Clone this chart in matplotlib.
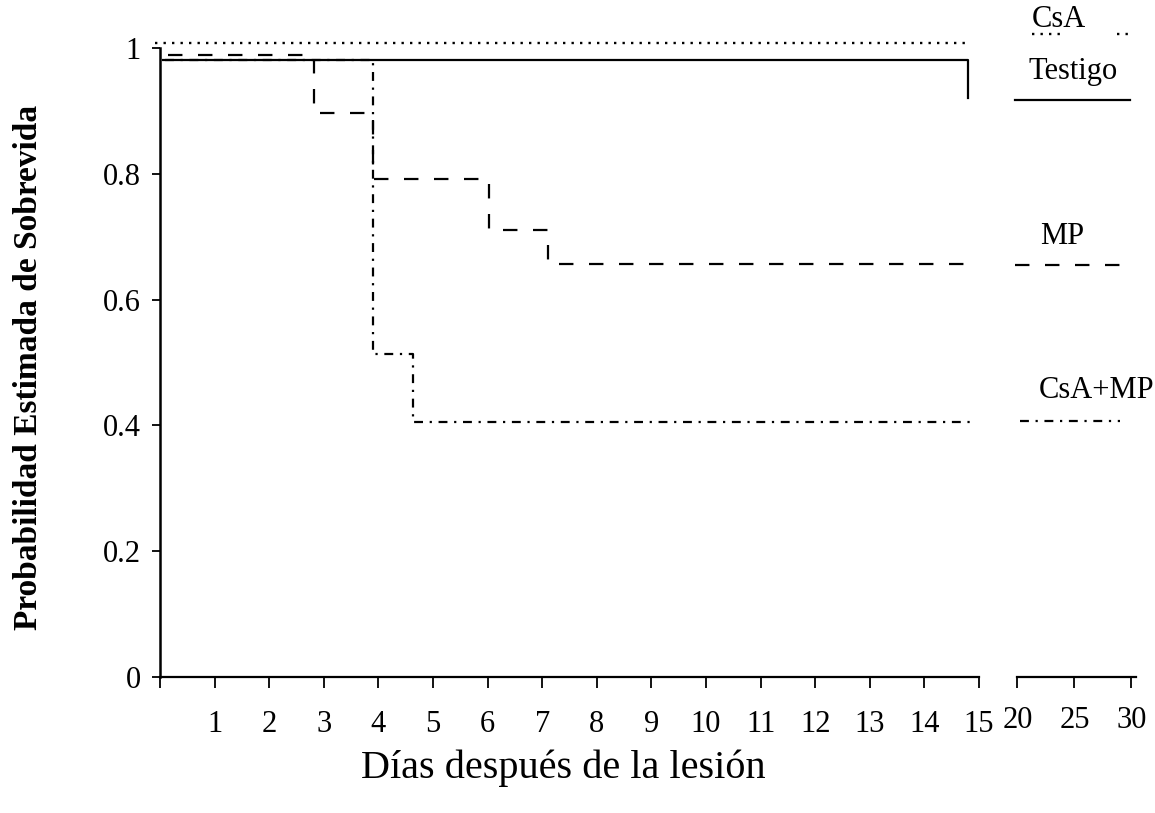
import matplotlib
matplotlib.use("Agg")
import matplotlib.pyplot as plt
from matplotlib.ticker import FixedLocator, NullFormatter

plt.rcParams["font.family"] = ["Liberation Serif", "DejaVu Serif"]

# Kaplan-Meier estimates: event times (days) and survival after each event
testigo_t = [0.05, 14.8]
testigo_s = [0.981, 0.921]
testigo_end = 14.8

csa_t = [-0.1]
csa_s = [1.008]
csa_end = 14.8

mp_t = [0.15, 2.82, 3.9, 6.03, 7.1]
mp_s = [0.989, 0.897, 0.791, 0.710, 0.656]
mp_end = 14.9

csamp_t = [0.1, 3.9, 4.63]
csamp_s = [0.981, 0.514, 0.405]
csamp_end = 14.9

# Survival level and span shown over days 20-30
csa_late = [(21.3, 24.2, 1.022), (28.7, 29.9, 1.022)]
testigo_late = [(19.8, 29.9, 0.917)]
mp_late = [(19.8, 29.0, 0.655)]
csamp_late = [(20.2, 29.0, 0.407)]

main_ticks = list(range(0, 16))
main_labels = [""] + [str(d) for d in range(1, 16)]
late_ticks = [20, 25, 30]
late_labels = ["20", "25", "30"]
y_ticks = [0, 0.2, 0.4, 0.6, 0.8, 1.0]
y_labels = ["0", "0.2", "0.4", "0.6", "0.8", "1"]


def km_path(times, surv, t_end):
    xs, ys = [], []
    for i, (t, s) in enumerate(zip(times, surv)):
        if i > 0:
            xs.append(t)
            ys.append(surv[i - 1])
        xs.append(t)
        ys.append(s)
    xs.append(t_end)
    ys.append(surv[-1])
    return xs, ys


W, H = 1155, 813
fig = plt.figure(figsize=(W / 100, H / 100), dpi=100)

y0_px, y1_px = 677, 48
unit = y0_px - y1_px
ytop = 1.06
bottom = (H - y0_px) / H
height = unit * ytop / H

ax = fig.add_axes([160 / W, bottom, (979 - 160) / W, height])
ax2 = fig.add_axes([1014 / W, bottom, (30.5 - 19.7) * 11.4 / W, height])

lw = 1.6
styles = {
    "csa": dict(color="black", lw=1.7, linestyle=(0, (1.0, 2.6))),
    "testigo": dict(color="black", lw=lw, linestyle="-"),
    "mp": dict(color="black", lw=lw, linestyle=(0, (6.5, 7))),
    "csamp": dict(color="black", lw=lw, linestyle=(0, (4, 3, 1, 3))),
}

ax.plot(*km_path(csamp_t, csamp_s, csamp_end), zorder=2, clip_on=False, **styles["csamp"])
ax.plot(*km_path(mp_t, mp_s, mp_end), zorder=3, clip_on=False, **styles["mp"])
ax.plot(*km_path(testigo_t, testigo_s, testigo_end), zorder=4, clip_on=False, **styles["testigo"])
ax.plot(*km_path(csa_t, csa_s, csa_end), zorder=4, clip_on=False, **styles["csa"])

for key, spans in [("csa", csa_late), ("testigo", testigo_late),
                   ("mp", mp_late), ("csamp", csamp_late)]:
    for xa, xb, v in spans:
        ax2.plot([xa, xb], [v, v], clip_on=False, **styles[key])

# axes styling
for a in (ax, ax2):
    a.set_ylim(0, ytop)
    a.spines["top"].set_visible(False)
    a.spines["right"].set_visible(False)
    a.patch.set_alpha(0)

tick_fs = 22
ax.set_xlim(0, 15)
ax.spines["left"].set_bounds(0, 1)
ax.spines["bottom"].set_bounds(0, 15)
ax.spines["left"].set_linewidth(1.8)
ax.spines["bottom"].set_linewidth(1.6)
ax.set_xticks(main_ticks)
ax.set_xticklabels(main_labels)
ax.set_yticks(y_ticks)
ax.set_yticklabels(y_labels)
ax.tick_params(axis="x", direction="out", length=8, width=1.3, pad=16, labelsize=tick_fs)
ax.tick_params(axis="y", direction="out", length=6, width=1.3, pad=8, labelsize=tick_fs)
ax.xaxis.set_minor_locator(FixedLocator([15]))
ax.xaxis.set_minor_formatter(NullFormatter())
ax.tick_params(axis="x", which="minor", direction="inout", length=16, width=1.6)

ax2.set_xlim(19.7, 30.5)
ax2.spines["left"].set_visible(False)
ax2.spines["bottom"].set_bounds(20, 30.4)
ax2.spines["bottom"].set_linewidth(1.6)
ax2.set_yticks([])
ax2.set_xticks(late_ticks)
ax2.set_xticklabels(late_labels)
ax2.tick_params(axis="x", direction="out", length=8, width=1.3, pad=13, labelsize=tick_fs)
ax2.xaxis.set_minor_locator(FixedLocator([20]))
ax2.xaxis.set_minor_formatter(NullFormatter())
ax2.tick_params(axis="x", which="minor", direction="inout", length=16, width=1.6)

# series names
lab_kw = dict(fontsize=22, ha="center", va="center", clip_on=False)
ax2.text(23.6, 1.046, "CsA", **lab_kw)
ax2.text(24.9, 0.963, "Testigo", **lab_kw)
ax2.text(23.9, 0.700, "MP", **lab_kw)
ax2.text(26.9, 0.455, "CsA+MP", **lab_kw)

fig.text(29 / W, 1 - 367 / H, "Probabilidad Estimada de Sobrevida", rotation=90,
         ha="center", va="center", fontsize=24, fontweight="bold")
fig.text(563 / W, 1 - 768 / H, "Días después de la lesión",
         ha="center", va="center", fontsize=29)

fig.savefig("out.png", dpi=100, facecolor="white")
